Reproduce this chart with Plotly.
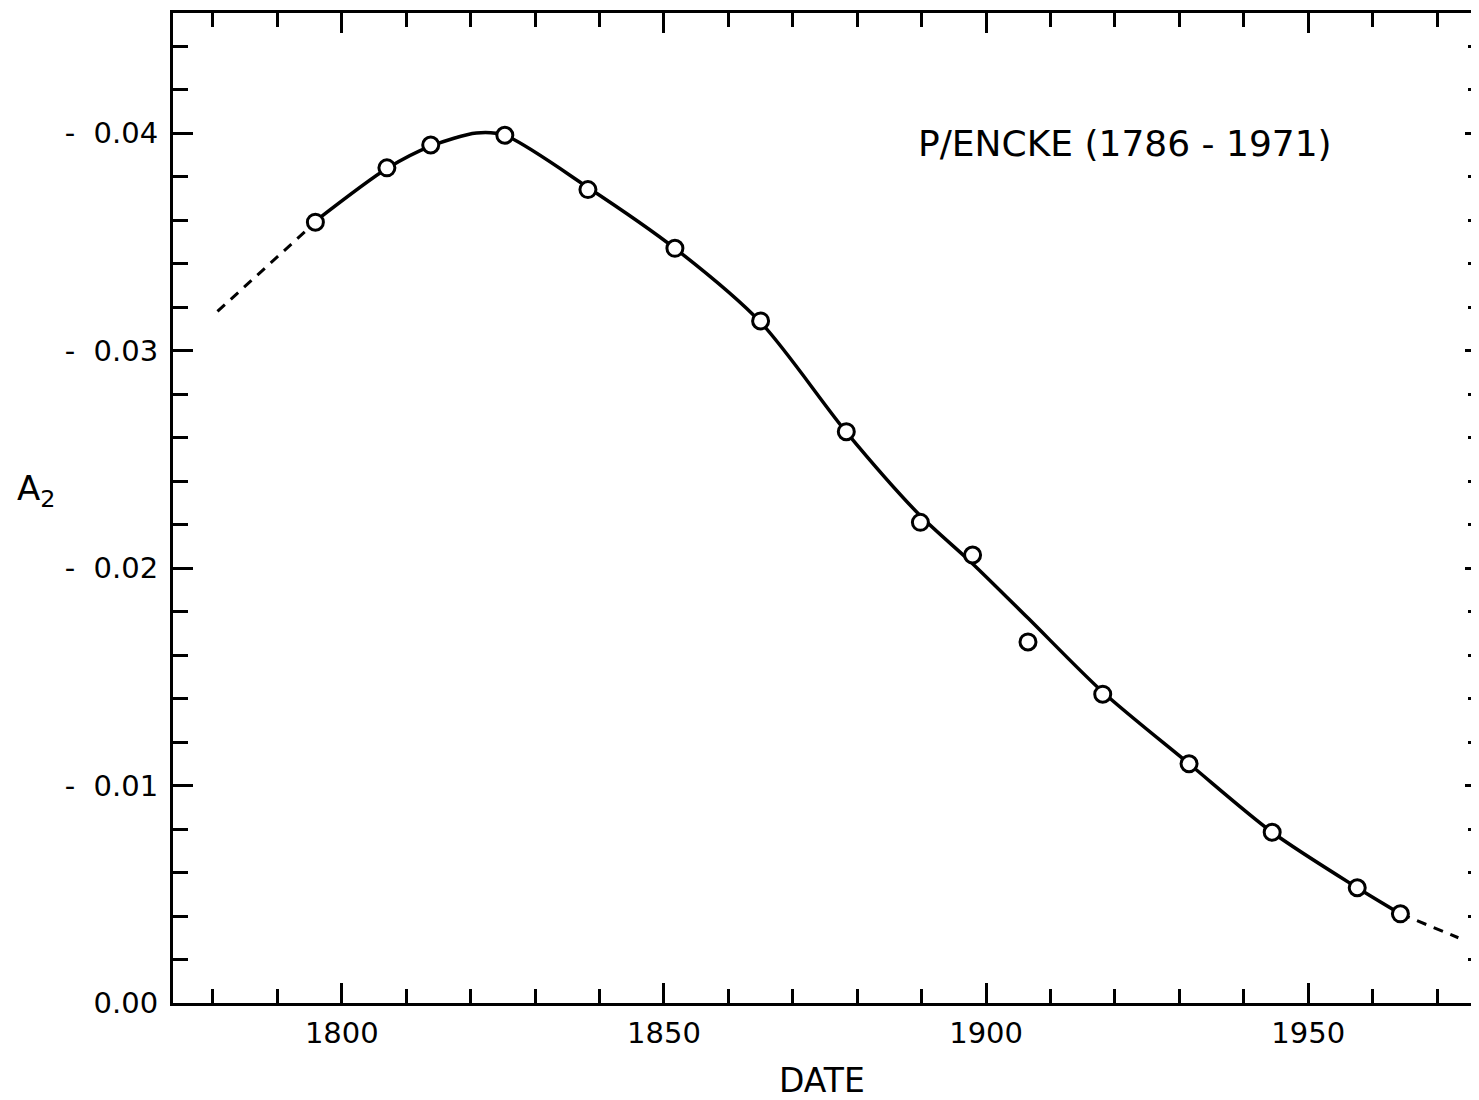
import plotly.graph_objects as go

# Observed A2 values (magnitudes; axis labels show them as negative)
obs_year = [1795.9, 1807.0, 1813.8, 1825.3, 1838.2, 1851.7, 1865.0, 1878.3,
            1889.8, 1897.9, 1906.5, 1918.1, 1931.5, 1944.4, 1957.6, 1964.3]
obs_a2 = [0.0359, 0.0384, 0.03945, 0.0399, 0.0374, 0.0347, 0.03136, 0.02627,
          0.0221, 0.0206, 0.0166, 0.0142, 0.0110, 0.00785, 0.0053, 0.0041]

# Fitted curve (solid part)
fit_year = [1795.9, 1807.0, 1813.8, 1820.9, 1825.3, 1838.2, 1851.7, 1865.0,
            1878.3, 1889.8, 1897.9, 1906.5, 1918.1, 1931.5, 1944.4, 1957.6, 1964.3]
fit_a2 = [0.03595, 0.03837, 0.0394, 0.0400, 0.03989, 0.0375, 0.0347, 0.0313,
          0.02625, 0.0224, 0.0202, 0.0177, 0.0143, 0.0110, 0.00785, 0.0053, 0.0041]

# Dashed extrapolations
ext_left_year = [1780.7, 1795.9]
ext_left_a2 = [0.0318, 0.0359]
ext_right_year = [1964.3, 1973.3]
ext_right_a2 = [0.0041, 0.0030]

y_tickvals = [0.0, 0.01, 0.02, 0.03, 0.04]
y_ticktext = ["0.00", "-\u00a0\u00a00.01", "-\u00a0\u00a00.02", "-\u00a0\u00a00.03", "-\u00a0\u00a00.04"]
x_tickvals = [1800, 1850, 1900, 1950]
x_ticktext = ["1800", "1850", "1900", "1950"]

FONT = "DejaVu Sans"
X_RANGE = [1773.8, 1976.5]
Y_RANGE = [0.0, 0.04552]

fig = go.Figure()
fig.add_trace(go.Scatter(x=ext_left_year, y=ext_left_a2, mode="lines",
                         line=dict(color="black", width=3, dash="10px,8px"),
                         showlegend=False, hoverinfo="skip"))
fig.add_trace(go.Scatter(x=ext_right_year, y=ext_right_a2, mode="lines",
                         line=dict(color="black", width=3, dash="10px,8px"),
                         showlegend=False, hoverinfo="skip"))
fig.add_trace(go.Scatter(x=fit_year, y=fit_a2, mode="lines",
                         line=dict(color="black", width=3.5, shape="spline", smoothing=0.8),
                         showlegend=False, hoverinfo="skip"))
fig.add_trace(go.Scatter(x=obs_year, y=obs_a2, mode="markers",
                         marker=dict(symbol="circle", size=16, color="white",
                                     line=dict(color="black", width=3)),
                         showlegend=False))
# dummy trace for right-hand tick axis
fig.add_trace(go.Scatter(x=[X_RANGE[0]], y=[0], yaxis="y2", mode="markers",
                         marker=dict(opacity=0), showlegend=False, hoverinfo="skip"))

fig.update_layout(
    width=1471, height=1092,
    margin=dict(l=165, r=0, t=5, b=97),
    paper_bgcolor="white", plot_bgcolor="white",
    font=dict(family=FONT, color="black", size=29),
    xaxis=dict(range=X_RANGE, showgrid=False, zeroline=False,
               showline=True, linecolor="black", linewidth=3, mirror="ticks",
               tickmode="array", tickvals=x_tickvals, ticktext=x_ticktext,
               ticks="inside", ticklen=20, tickwidth=3, tickcolor="black",
               minor=dict(tickmode="linear", tick0=1780, dtick=10, ticks="inside",
                          ticklen=14, tickwidth=3, tickcolor="black", showgrid=False),
               tickfont=dict(family=FONT, size=29), ticklabelstandoff=2),
    yaxis=dict(range=Y_RANGE, showgrid=False, zeroline=False,
               showline=True, linecolor="black", linewidth=3, mirror=False,
               tickmode="array", tickvals=y_tickvals, ticktext=y_ticktext,
               ticks="inside", ticklen=20, tickwidth=3, tickcolor="black",
               minor=dict(tickmode="linear", tick0=0, dtick=0.002, ticks="inside",
                          ticklen=15, tickwidth=3, tickcolor="black", showgrid=False),
               tickfont=dict(family=FONT, size=29), ticklabelstandoff=6),
    yaxis2=dict(range=Y_RANGE, overlaying="y", side="right", showgrid=False,
                zeroline=False, showline=False, showticklabels=False,
                tickmode="array", tickvals=y_tickvals,
                ticks="inside", ticklen=14, tickwidth=3, tickcolor="black",
                minor=dict(tickmode="linear", tick0=0, dtick=0.002, ticks="inside",
                           ticklen=11, tickwidth=3, tickcolor="black", showgrid=False)),
    annotations=[
        dict(text="P/ENCKE (1786 - 1971)", xref="x", yref="y", x=1921.6, y=0.03954,
             showarrow=False, xanchor="center", yanchor="middle",
             font=dict(family=FONT, size=36)),
        dict(text="A<sub>2</sub>", xref="paper", yref="paper", x=-0.121, y=0.518,
             showarrow=False, xanchor="left", yanchor="middle",
             font=dict(family=FONT, size=34)),
        dict(text="DATE", xref="paper", yref="paper", x=0.497, y=-0.078,
             showarrow=False, xanchor="center", yanchor="middle",
             font=dict(family=FONT, size=33)),
    ],
)

fig.write_html("out.html")
